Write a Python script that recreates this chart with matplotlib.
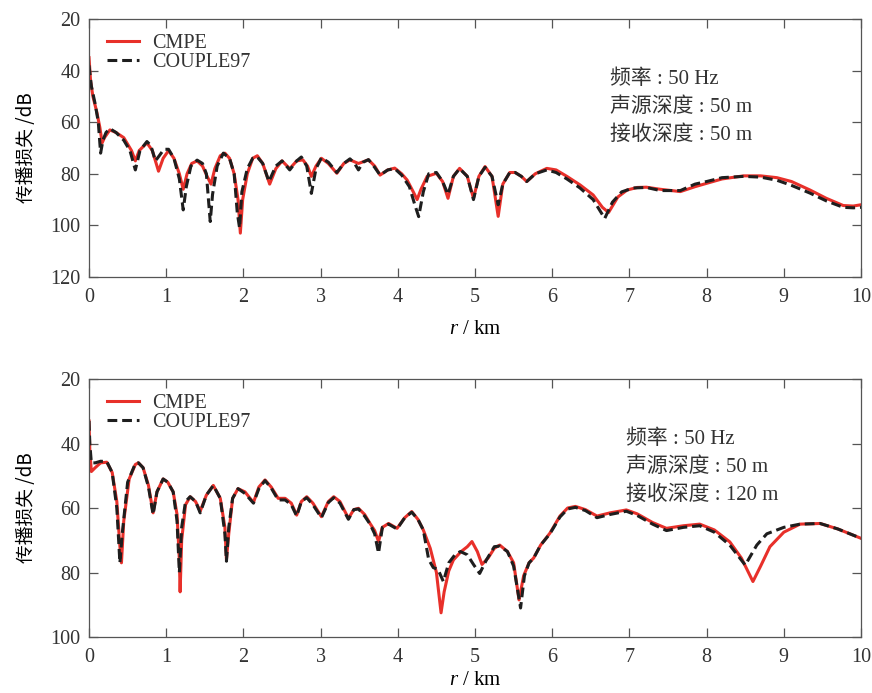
import matplotlib
matplotlib.use("Agg")
import matplotlib.pyplot as plt

# transmission loss vs range, receiver at 50 m
r_cmpe_a = [0.0, 0.02, 0.05, 0.1, 0.14, 0.17, 0.2, 0.27, 0.35, 0.45, 0.55, 0.6, 0.65, 0.75, 0.82,
            0.9, 0.96, 1.03, 1.1, 1.17, 1.22, 1.27, 1.33, 1.4, 1.47, 1.53, 1.58, 1.63, 1.7, 1.76,
            1.82, 1.88, 1.93, 1.96, 1.99, 2.05, 2.12, 2.18, 2.25, 2.34, 2.42, 2.5, 2.6, 2.69, 2.77,
            2.83, 2.88, 2.94, 3.01, 3.1, 3.21, 3.3, 3.38, 3.49, 3.62, 3.7, 3.77, 3.87, 3.96, 4.05,
            4.12, 4.2, 4.25, 4.3, 4.38, 4.5, 4.58, 4.65, 4.72, 4.8, 4.9, 4.98, 5.05, 5.13, 5.22,
            5.3, 5.36, 5.45, 5.52, 5.6, 5.67, 5.78, 5.93, 6.05, 6.19, 6.36, 6.53, 6.65, 6.73, 6.85,
            6.97, 7.1, 7.22, 7.4, 7.66, 7.85, 8.0, 8.2, 8.48, 8.7, 8.91, 9.1, 9.34, 9.55, 9.77,
            9.9, 10.0]
tl_cmpe_a = [35, 44, 50, 56, 62, 68, 66, 63, 64, 66, 71, 75, 71, 68, 71,
             79, 74, 71, 74, 80, 86, 80, 76, 75, 77, 81, 84, 78, 73, 72,
             74, 80, 90, 103, 90, 80, 74, 73, 76, 84, 78, 75, 78, 75, 74.6,
             77, 81, 77, 74, 76, 79.8, 76, 74.6, 76, 74.6, 77, 80.5, 78.5, 77.8, 80,
             82.4, 87, 90, 86, 81, 79.8, 83, 89.5, 81, 77.9, 81, 89.5, 81, 77.2, 81,
             96.5, 84, 79.5, 79.5, 81, 83, 80, 77.9, 78.5, 81, 84.3, 88.2, 93, 95, 89,
             86.3, 85.3, 85.2, 86, 86.9, 85, 83.7, 82, 80.8, 80.8, 81.5, 83, 86.3, 89.5, 92.3,
             92.5, 92]

r_couple_a = [0.0, 0.03, 0.08, 0.12, 0.15, 0.18, 0.22, 0.27, 0.35, 0.45, 0.53, 0.6, 0.66, 0.75,
              0.8, 0.86, 0.91, 0.97, 1.03, 1.1, 1.17, 1.22, 1.26, 1.32, 1.4, 1.47, 1.52, 1.57, 1.6,
              1.66, 1.74, 1.82, 1.88, 1.92, 1.95, 1.98, 2.05, 2.12, 2.18, 2.25, 2.33, 2.42, 2.5,
              2.6, 2.69, 2.75, 2.82, 2.88, 2.94, 3.01, 3.1, 3.21, 3.3, 3.38, 3.44, 3.49, 3.55, 3.62,
              3.7, 3.77, 3.87, 3.96, 4.05, 4.15, 4.22, 4.27, 4.33, 4.4, 4.5, 4.58, 4.65, 4.72, 4.8,
              4.9, 4.98, 5.05, 5.13, 5.22, 5.3, 5.36, 5.45, 5.52, 5.6, 5.67, 5.78, 5.93, 6.05, 6.19,
              6.36, 6.53, 6.68, 6.78, 6.9, 7.05, 7.22, 7.4, 7.66, 7.85, 8.0, 8.2, 8.48, 8.7, 8.91,
              9.1, 9.34, 9.55, 9.77, 9.9, 10.0]
tl_couple_a = [38, 46, 53, 60, 72, 67, 64, 62.5, 64, 67, 71, 78.5, 71, 67.5,
               69, 75, 73, 70.5, 70.5, 74, 82, 94, 85, 77, 74.7, 76, 80, 98.5, 88,
               77, 72, 74, 80, 95, 101, 87, 78, 74, 73.5, 76, 83, 77, 75,
               78.5, 75, 73.5, 77, 87.6, 78, 73.8, 75.5, 79.5, 76, 74.2, 76, 78.5, 75.5, 74.5,
               77.5, 80.5, 78.5, 78, 80.5, 85, 92, 96.6, 87, 80, 79.5, 83, 88, 81, 78,
               81, 90, 81, 77.5, 81, 92, 84, 79.5, 79.5, 81, 83, 80, 78.5, 79.5, 82,
               85.5, 90, 97.3, 91, 87, 85.5, 85.3, 86.5, 86.5, 84, 83, 81.5, 81, 81.3, 82.5,
               84.5, 87.5, 90.5, 93, 93.2, 93]

# receiver at 120 m
r_cmpe_b = [0.0, 0.01, 0.03, 0.08, 0.15, 0.23, 0.3, 0.36, 0.4, 0.42, 0.45, 0.52, 0.6, 0.64, 0.7,
            0.77, 0.83, 0.88, 0.96, 1.02, 1.09, 1.14, 1.17, 1.18, 1.2, 1.25, 1.31, 1.38, 1.44,
            1.52, 1.61, 1.7, 1.76, 1.78, 1.81, 1.86, 1.93, 2.02, 2.13, 2.2, 2.28, 2.36, 2.45,
            2.54, 2.62, 2.69, 2.75, 2.82, 2.9, 3.01, 3.1, 3.17, 3.25, 3.36, 3.43, 3.49, 3.57,
            3.64, 3.7, 3.75, 3.8, 3.88, 3.99, 4.09, 4.18, 4.26, 4.33, 4.42, 4.5, 4.56, 4.6, 4.66,
            4.72, 4.82, 4.9, 4.96, 5.03, 5.09, 5.17, 5.25, 5.32, 5.42, 5.5, 5.57, 5.63, 5.7, 5.76,
            5.85, 5.97, 6.1, 6.2, 6.3, 6.43, 6.58, 6.75, 6.96, 7.1, 7.3, 7.48, 7.7, 7.91, 8.1,
            8.3, 8.45, 8.6, 8.7, 8.82, 9.0, 9.21, 9.47, 9.7, 10.0]
tl_cmpe_b = [33, 42, 48.7, 47.5, 46, 45.8, 49, 58, 72, 77, 64, 51, 46.5, 46, 47.5,
             53, 61.5, 55, 51, 52, 55, 62, 76, 86, 70, 59, 56.5, 58, 61,
             56, 53, 57, 66, 76, 68, 57, 54, 55, 58.3, 53.5, 51.3, 53.5, 57,
             57, 58.5, 62.2, 58, 56.5, 58.5, 62.7, 58, 56.5, 58, 63.2, 60.5, 60.1, 62,
             64.8, 67, 70.4, 66, 64.8, 66.3, 63, 61.1, 63.5, 66.8, 72.5, 80, 92.5, 86, 79.5,
             76.1, 73.5, 72, 70.4, 73.5, 77.5, 75.5, 72.5, 71.5, 73.5, 77, 88.5, 81, 77, 75.5,
             71.5, 67.8, 62.5, 60, 59.5, 60.5, 62.5, 61.5, 60.6, 61.8, 64.5, 66.3, 65.5, 65, 66.8,
             70.5, 75.5, 82.8, 78, 72, 67.5, 65, 64.8, 66.5, 69.4]

r_couple_b = [0.0, 0.01, 0.03, 0.08, 0.15, 0.23, 0.3, 0.36, 0.4, 0.43, 0.5, 0.6, 0.64, 0.7, 0.77,
              0.83, 0.88, 0.96, 1.02, 1.09, 1.14, 1.17, 1.2, 1.25, 1.31, 1.38, 1.44, 1.52, 1.61,
              1.7, 1.76, 1.78, 1.81, 1.86, 1.93, 2.02, 2.13, 2.2, 2.28, 2.36, 2.45, 2.54, 2.62,
              2.69, 2.75, 2.82, 2.9, 3.01, 3.1, 3.17, 3.25, 3.36, 3.43, 3.49, 3.57, 3.64, 3.7,
              3.75, 3.8, 3.88, 3.99, 4.09, 4.18, 4.26, 4.33, 4.4, 4.46, 4.52, 4.59, 4.66, 4.74,
              4.81, 4.9, 4.98, 5.06, 5.15, 5.25, 5.32, 5.42, 5.5, 5.59, 5.64, 5.7, 5.76, 5.85,
              5.97, 6.1, 6.2, 6.3, 6.43, 6.58, 6.75, 6.96, 7.1, 7.3, 7.48, 7.7, 7.91, 8.1, 8.3,
              8.5, 8.65, 8.78, 9.0, 9.21, 9.47, 9.7, 10.0]
tl_couple_b = [33, 40, 46, 46, 45.5, 45.6, 49, 60, 77, 68, 52, 46.2, 46, 47.5, 53.5,
               62, 55, 51, 52, 55, 64, 80, 66, 58, 56.5, 58, 61.5, 56, 53,
               57, 68, 76.5, 66, 57, 54, 55.5, 58.5, 54, 51.5, 53.8, 57.5, 57.5, 59,
               62.5, 58, 56.8, 59, 63, 58.3, 56.8, 58.5, 63.5, 60.5, 60.3, 62.5,
               65, 68, 74, 66, 65, 66.5, 63, 61.3, 63.5, 66.8, 76, 78.5, 79, 82.8, 77, 74.5,
               73.5, 74.5, 77.5, 80.3, 76, 72, 71.8, 73.5, 78, 91, 81, 77, 75.5, 71.5,
               68, 62.8, 60.3, 59.8, 60.8, 63, 62, 61, 62.3, 65, 67, 66, 65.5, 67.5, 71.5,
               77.7, 71.5, 68, 66, 65, 64.8, 66.5, 69.4]

x_ticks = list(range(0, 11))
notes_a = ["频率 : 50 Hz", "声源深度 : 50 m", "接收深度 : 50 m"]
notes_b = ["频率 : 50 Hz", "声源深度 : 50 m", "接收深度 : 120 m"]

serif = ["Liberation Serif", "Noto Sans CJK SC"]
plt.rcParams["font.family"] = serif
plt.rcParams["mathtext.fontset"] = "custom"
plt.rcParams["mathtext.rm"] = "Liberation Serif"
plt.rcParams["mathtext.it"] = "Liberation Serif:italic"
plt.rcParams["text.color"] = "#333333"
plt.rcParams["axes.edgecolor"] = "#555555"
plt.rcParams["xtick.color"] = "#555555"
plt.rcParams["ytick.color"] = "#555555"
plt.rcParams["xtick.labelcolor"] = "#333333"
plt.rcParams["ytick.labelcolor"] = "#333333"

fig = plt.figure(figsize=(8.72, 6.93), dpi=100)
ax1 = fig.add_axes([0.1021, 0.6003, 0.8853, 0.3723])
ax2 = fig.add_axes([0.1021, 0.0808, 0.8853, 0.3723])

panels = [
    (ax1, r_cmpe_a, tl_cmpe_a, r_couple_a, tl_couple_a, notes_a, (20, 120), 0.675, 9),
    (ax2, r_cmpe_b, tl_cmpe_b, r_couple_b, tl_couple_b, notes_b, (20, 100), 0.696, 3),
]

for ax, rc, tc, rk, tk, notes, ylim, nx, xpad in panels:
    ax.plot(rc, tc, color="#e8302a", lw=2.2, label="CMPE")
    ax.plot(rk, tk, color="#1e1e1e", lw=2.2, dashes=(3.2, 1.6), label="COUPLE97")
    ax.set_xlim(0, 10)
    ax.set_ylim(ylim[1], ylim[0])
    ax.set_xticks(x_ticks)
    ax.set_yticks(range(ylim[0], ylim[1] + 1, 20))
    ax.tick_params(direction="in", top=True, right=True, length=6.5, width=0.9, labelsize=14.5, pad=6)
    ax.tick_params(axis="x", pad=8)
    for s in ax.spines.values():
        s.set_linewidth(0.9)
    ax.set_ylabel("传播损失 /dB", family=["Noto Sans CJK SC", "DejaVu Sans"], fontsize=13.5, labelpad=10)
    ax.set_xlabel("$\\mathit{r}$ / km", fontsize=15, labelpad=xpad)
    ax.legend(loc="upper left", bbox_to_anchor=(0.003, 1.005), frameon=False, fontsize=14.5,
              handlelength=1.55, handletextpad=0.65, labelspacing=0.0, borderaxespad=0.4)
    for i, line in enumerate(notes):
        ax.text(nx, 0.765 - i * 0.107, line, transform=ax.transAxes, fontsize=15,
                va="center", ha="left")

fig.savefig("out.png", dpi=100)
